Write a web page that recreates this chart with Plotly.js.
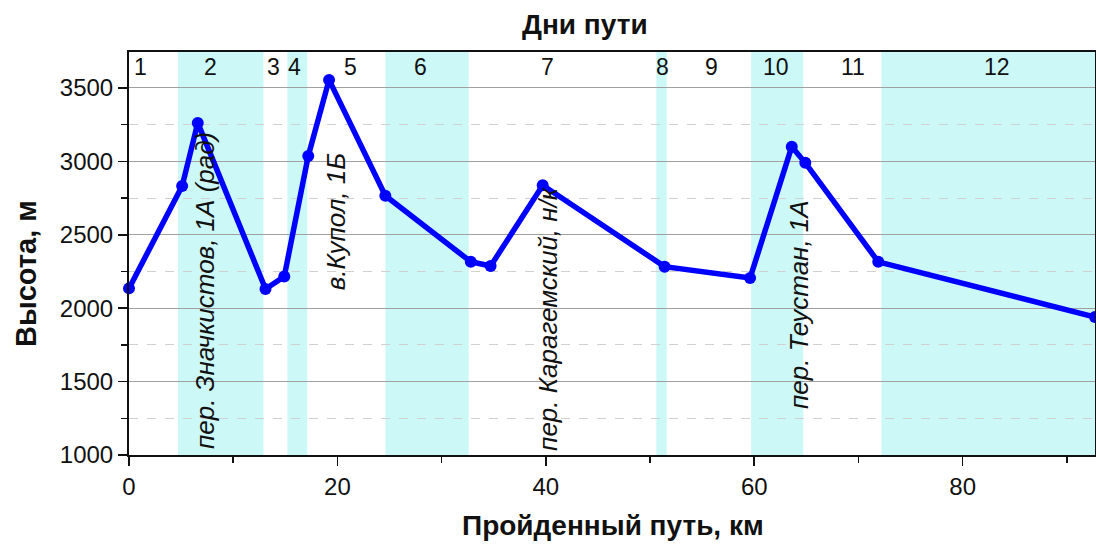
<!DOCTYPE html>
<html>
<head>
<meta charset="utf-8">
<script src="https://cdn.plot.ly/plotly-3.0.1.min.js"></script>
<style>
html,body{margin:0;padding:0;background:#fff;}
#chart{width:1096px;height:551px;}
</style>
</head>
<body>
<div id="chart"></div>
<script>
// Distance along the route (km) and altitude (m)
var distanceKm = [0, 5.1, 6.6, 13.1, 14.9, 17.2, 19.2, 24.6, 32.8, 34.7, 39.7, 51.4, 59.6, 63.6, 64.9, 71.9, 92.7];
var altitudeM  = [2135, 2832, 3262, 2131, 2216, 3037, 3555, 2766, 2316, 2287, 2837, 2283, 2205, 3100, 2990, 2316, 1940];

// Shaded (even) days: start and end, km
var bandStart = [4.7, 15.2, 24.6, 50.6, 59.7, 72.2];
var bandEnd   = [12.9, 17.1, 32.6, 51.6, 64.7, 92.7];

// Day numbers and their label positions (km)
var dayLabels = ['1','2','3','4','5','6','7','8','9','10','11','12'];
var dayLabelX = [1.1, 7.8, 13.9, 15.9, 21.3, 28.0, 40.2, 51.2, 55.9, 62.1, 69.5, 83.3];

// Pass / peak labels
var passLabels = ['пер. Значкистов, 1А (рад)', 'в.Купол, 1Б', 'пер. Карагемский, н/к', 'пер. Теустан, 1А'];
var passX = [7.3, 19.9, 40.2, 64.3];
var passY = [2117, 2594, 1933, 2022];

var xMax = 92.7;

var W=1096, H=551, mL=129, mR=1, mT=52, mB=96;
function px2paperX(p){ return (p-mL)/(W-mL-mR); }
function px2paperY(p){ return 1-(p-mT)/(H-mT-mB); }

var shapes = bandStart.map(function(s, i){
  return {type:'rect', xref:'x', yref:'paper', x0:s, x1:bandEnd[i], y0:0, y1:1,
          fillcolor:'#ccf8f8', line:{width:0}, layer:'below'};
});

var FONT = 'Arial, Liberation Sans, sans-serif';
var annotations = [];
dayLabels.forEach(function(t, i){
  annotations.push({x:dayLabelX[i], y:3640, xref:'x', yref:'y', text:t, showarrow:false,
    font:{family:FONT, size:23, color:'#111'}});
});
passLabels.forEach(function(t, i){
  annotations.push({x:passX[i], y:passY[i], xref:'x', yref:'y', text:'<i>'+t+'</i>', textangle:-90,
    showarrow:false, font:{family:FONT, size:26, color:'#111'}});
});
annotations.push({x:px2paperX(585), y:px2paperY(25), xref:'paper', yref:'paper', yanchor:'middle',
  text:'<b>Дни пути</b>', showarrow:false, font:{family:FONT, size:28, color:'#111'}});
annotations.push({x:px2paperX(26), y:px2paperY(274), xref:'paper', yref:'paper', xanchor:'center', yanchor:'middle',
  text:'<b>Высота, м</b>', textangle:-90, showarrow:false, font:{family:FONT, size:29, color:'#111'}});
annotations.push({x:px2paperX(613), y:px2paperY(525), xref:'paper', yref:'paper', xanchor:'center', yanchor:'middle',
  text:'<b>Пройденный путь, км</b>', showarrow:false, font:{family:FONT, size:28, color:'#111'}});

var trace = {
  x: distanceKm, y: altitudeM, mode:'lines+markers', type:'scatter',
  line:{color:'#0000ff', width:5.5}, marker:{color:'#0000ff', size:12},
  hoverinfo:'skip', showlegend:false, cliponaxis:false
};

var layout = {
  width:W, height:H,
  margin:{l:mL, r:mR, t:mT, b:mB},
  paper_bgcolor:'#fff', plot_bgcolor:'rgba(0,0,0,0)',
  font:{family:FONT, color:'#111'},
  shapes:shapes, annotations:annotations,
  xaxis:{range:[0, xMax], tickvals:[0,20,40,60,80], ticks:'outside', ticklen:9, tickwidth:1.5,
    tickcolor:'#111', showgrid:false, zeroline:false, showline:true, linecolor:'#111', linewidth:2, mirror:true,
    tickfont:{size:24}, minor:{tickvals:[10,30,50,70,90], ticks:'outside', ticklen:6, tickwidth:1.5, tickcolor:'#111', showgrid:false}},
  yaxis:{range:[1000, 3745], tickvals:[1000,1500,2000,2500,3000,3500], ticks:'outside', ticklen:9, tickwidth:1.5,
    tickcolor:'#111', showgrid:true, gridcolor:'#a0a0a0', gridwidth:1, zeroline:false,
    showline:true, linecolor:'#111', linewidth:2, mirror:true, tickfont:{size:24},
    minor:{tickvals:[1250,1750,2250,2750,3250], ticks:'outside', ticklen:6, tickwidth:1.5, tickcolor:'#111',
      showgrid:true, gridcolor:'#d0d0d0', griddash:'dash', gridwidth:1}}
};

Plotly.newPlot('chart', [trace], layout, {staticPlot:true, displayModeBar:false});
</script>
</body>
</html>
